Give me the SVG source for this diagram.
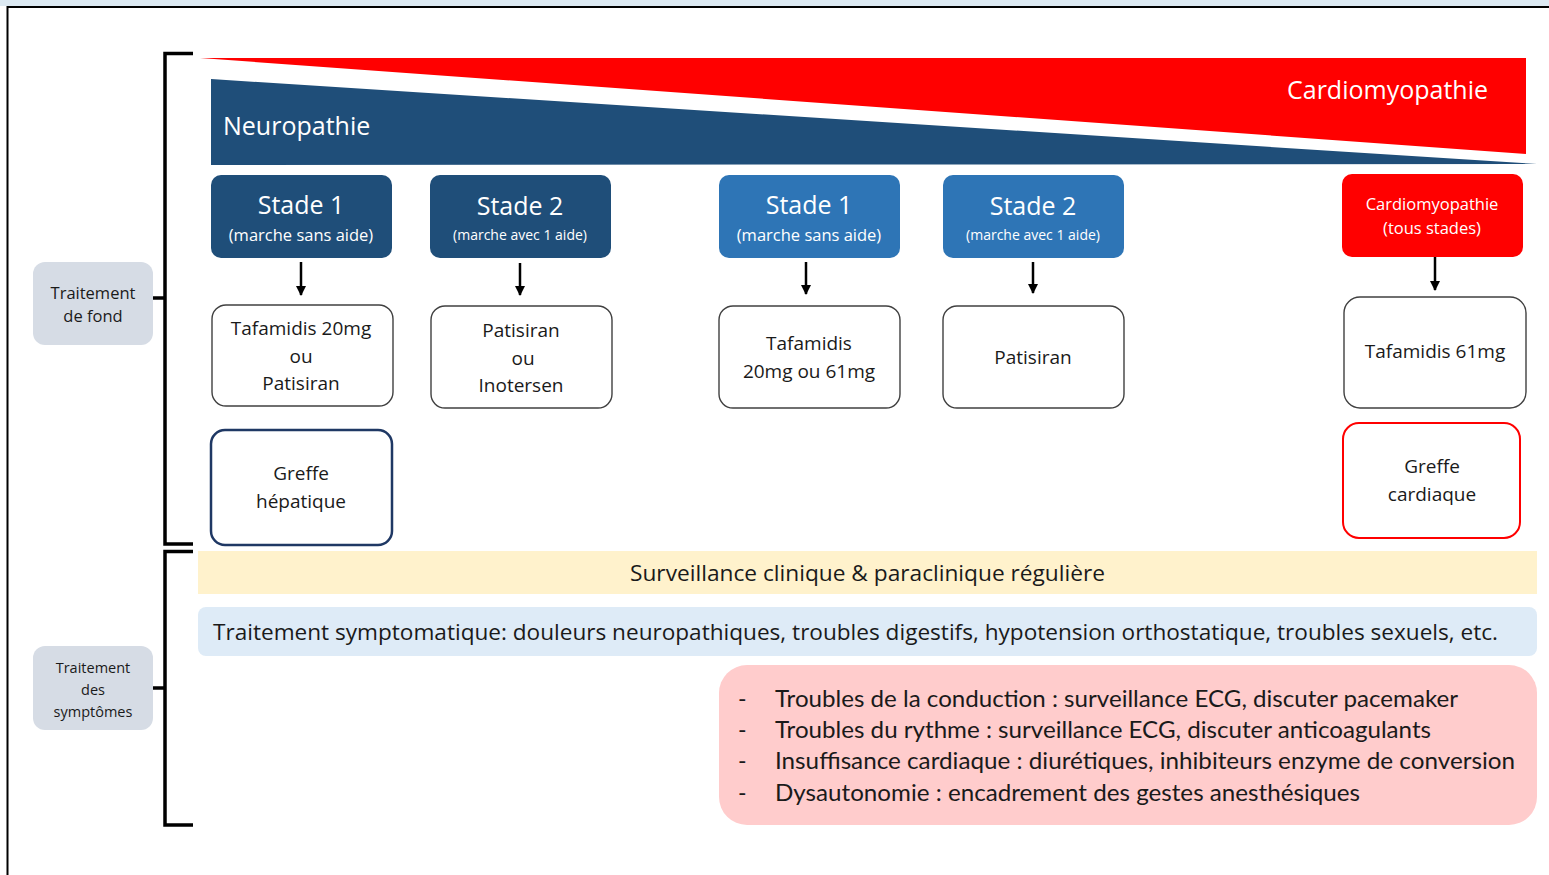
<svg xmlns="http://www.w3.org/2000/svg" width="1549" height="875" viewBox="0 0 1549 875">
  <defs>
    <marker id="arrow" viewBox="0 0 10 10" refX="9" refY="5" markerWidth="4" markerHeight="4" orient="auto" markerUnits="strokeWidth">
      <path d="M0,0 L10,5 L0,10 z" fill="#000"/>
    </marker>
    <style>
      .ui { font-family: "Open Sans", "Noto Sans", sans-serif; }
      .cal { font-family: Lato, "Open Sans", sans-serif; }
      .stage-dark { fill: #1F4E79; }
      .stage-blue { fill: #2E75B6; }
      .stage-red { fill: #FF0000; }
      .white-box { fill: #fff; stroke: #404040; stroke-width: 1.4; }
      .label-box { fill: #D6DCE5; }
      .bracket { fill: none; stroke: #000; stroke-width: 3.5; }
      .conn { stroke: #000; stroke-width: 2.5; marker-end: url(#arrow); }
      .wt { fill: #fff; text-anchor: middle; }
      .bt { fill: #1a1a1a; text-anchor: middle; }
    </style>
  </defs>

  <rect width="1549" height="875" fill="#fff"/>
  <!-- faint banner strip above the frame -->
  <rect x="0" y="0" width="1549" height="6" fill="#DCE9F2"/>
  <!-- outer frame -->
  <path d="M7.5,875 V7 H1549" fill="none" stroke="#000" stroke-width="2"/>

  <!-- disease progression wedges -->
  <g id="wedges">
    <polygon points="200,58 1526,58 1526,154" fill="#FF0000"/>
    <polygon points="211,79 1537,164 211,165" fill="#1F4E79"/>
    <text x="223" y="135" class="ui" font-size="25" fill="#fff">Neuropathie</text>
    <text x="1488" y="99" class="ui" font-size="25" fill="#fff" text-anchor="end">Cardiomyopathie</text>
  </g>

  <!-- brackets -->
  <g id="brackets">
    <path class="bracket" d="M193,53.5 H165 V544 H193 M153,298 H165"/>
    <path class="bracket" d="M193,551.5 H165 V825 H193 M153,688 H165"/>
  </g>

  <g id="label-fond">
    <rect class="label-box" x="33" y="262" width="120" height="83" rx="12"/>
    <text class="ui bt" font-size="16.5" x="93" y="299">Traitement</text>
    <text class="ui bt" font-size="16.5" x="93" y="322">de fond</text>
  </g>
  <g id="label-symptomes">
    <rect class="label-box" x="33" y="646" width="120" height="84" rx="12"/>
    <text class="ui bt" font-size="14.5" x="93" y="673">Traitement</text>
    <text class="ui bt" font-size="14.5" x="93" y="695">des</text>
    <text class="ui bt" font-size="14.5" x="93" y="717">symptômes</text>
  </g>

  <!-- stage headers -->
  <g id="stade1-neuro">
    <rect class="stage-dark" x="211" y="175" width="181" height="83" rx="10"/>
    <text class="ui wt" font-size="25" x="301" y="214">Stade 1</text>
    <text class="ui wt" font-size="16.5" x="301" y="241">(marche sans aide)</text>
  </g>
  <g id="stade2-neuro">
    <rect class="stage-dark" x="430" y="175" width="181" height="83" rx="10"/>
    <text class="ui wt" font-size="25" x="520" y="215">Stade 2</text>
    <text class="ui wt" font-size="14" x="520" y="240">(marche avec 1 aide)</text>
  </g>
  <g id="stade1-mixte">
    <rect class="stage-blue" x="719" y="175" width="181" height="83" rx="10"/>
    <text class="ui wt" font-size="25" x="809" y="214">Stade 1</text>
    <text class="ui wt" font-size="16.5" x="809" y="241">(marche sans aide)</text>
  </g>
  <g id="stade2-mixte">
    <rect class="stage-blue" x="943" y="175" width="181" height="83" rx="10"/>
    <text class="ui wt" font-size="25" x="1033" y="215">Stade 2</text>
    <text class="ui wt" font-size="14" x="1033" y="240">(marche avec 1 aide)</text>
  </g>
  <g id="cardio-stade">
    <rect class="stage-red" x="1342" y="174" width="181" height="83" rx="10"/>
    <text class="ui wt" font-size="16.5" x="1432" y="210">Cardiomyopathie</text>
    <text class="ui wt" font-size="16.5" x="1432" y="234">(tous stades)</text>
  </g>

  <!-- treatments -->
  <g id="ttt-1">
    <rect class="white-box" x="212" y="305" width="181" height="101" rx="14"/>
    <text class="ui bt" font-size="19" x="301" y="335">Tafamidis 20mg</text>
    <text class="ui bt" font-size="19" x="301" y="363">ou</text>
    <text class="ui bt" font-size="19" x="301" y="390">Patisiran</text>
  </g>
  <g id="ttt-2">
    <rect class="white-box" x="431" y="306" width="181" height="102" rx="14"/>
    <text class="ui bt" font-size="19" x="521" y="337">Patisiran</text>
    <text class="ui bt" font-size="19" x="523" y="365">ou</text>
    <text class="ui bt" font-size="19" x="521" y="392">Inotersen</text>
  </g>
  <g id="ttt-3">
    <rect class="white-box" x="719" y="306" width="181" height="102" rx="14"/>
    <text class="ui bt" font-size="19" x="809" y="350">Tafamidis</text>
    <text class="ui bt" font-size="19" x="809" y="378">20mg ou 61mg</text>
  </g>
  <g id="ttt-4">
    <rect class="white-box" x="943" y="306" width="181" height="102" rx="14"/>
    <text class="ui bt" font-size="19" x="1033" y="364">Patisiran</text>
  </g>
  <g id="ttt-5">
    <rect class="white-box" x="1344" y="297" width="182" height="111" rx="16"/>
    <text class="ui bt" font-size="19" x="1435" y="358">Tafamidis 61mg</text>
  </g>
  <g id="greffe-hepatique">
    <rect x="211" y="430" width="181" height="115" rx="14" fill="#fff" stroke="#1F3864" stroke-width="2.5"/>
    <text class="ui bt" font-size="19" x="301" y="480">Greffe</text>
    <text class="ui bt" font-size="19" x="301" y="508">hépatique</text>
  </g>
  <g id="greffe-cardiaque">
    <rect x="1343" y="423" width="177" height="115" rx="16" fill="#fff" stroke="#FF0000" stroke-width="2"/>
    <text class="ui bt" font-size="19" x="1432" y="473">Greffe</text>
    <text class="ui bt" font-size="19" x="1432" y="501">cardiaque</text>
  </g>

  <!-- connectors -->
  <g id="connectors">
    <line class="conn" x1="301" y1="262" x2="301" y2="295"/>
    <line class="conn" x1="520" y1="263" x2="520" y2="295"/>
    <line class="conn" x1="806" y1="262" x2="806" y2="294"/>
    <line class="conn" x1="1033" y1="262" x2="1033" y2="293"/>
    <line class="conn" x1="1435" y1="257" x2="1435" y2="290"/>
  </g>

  <!-- symptomatic care -->
  <g id="surveillance">
    <rect x="198" y="551" width="1339" height="43" fill="#FFF2CC"/>
    <text class="ui bt" font-size="22" x="867.5" y="581" textLength="475" lengthAdjust="spacingAndGlyphs">Surveillance clinique &amp; paraclinique régulière</text>
  </g>
  <g id="symptomatique">
    <rect x="198" y="607" width="1339" height="49" rx="8" fill="#DEEBF7"/>
    <text class="ui" font-size="21.5" x="213" y="640" fill="#1a1a1a" textLength="1285" lengthAdjust="spacingAndGlyphs">Traitement symptomatique: douleurs neuropathiques, troubles digestifs, hypotension orthostatique, troubles sexuels, etc.</text>
  </g>
  <g id="cardio-symptomes">
    <rect x="719" y="665" width="818" height="160" rx="28" fill="#FFCCCC"/>
    <g class="cal" font-size="23" fill="#1a1a1a">
      <text x="738" y="707">-</text>
      <text x="775" y="707" textLength="683" lengthAdjust="spacingAndGlyphs">Troubles de la conduction : surveillance ECG, discuter pacemaker</text>
      <text x="738" y="738">-</text>
      <text x="775" y="738" textLength="656" lengthAdjust="spacingAndGlyphs">Troubles du rythme : surveillance ECG, discuter anticoagulants</text>
      <text x="738" y="769">-</text>
      <text x="775" y="769" textLength="740" lengthAdjust="spacingAndGlyphs">Insuffisance cardiaque : diurétiques, inhibiteurs enzyme de conversion</text>
      <text x="738" y="801">-</text>
      <text x="775" y="801" textLength="585" lengthAdjust="spacingAndGlyphs">Dysautonomie : encadrement des gestes anesthésiques</text>
    </g>
  </g>
</svg>
